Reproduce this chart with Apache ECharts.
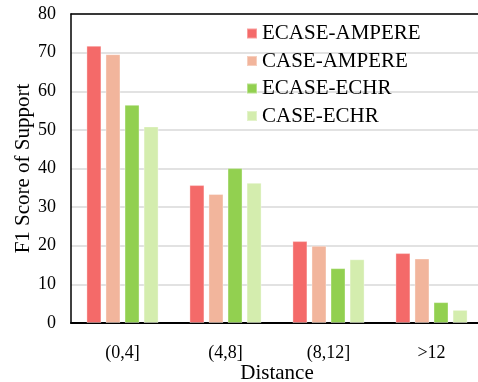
<!DOCTYPE html>
<html>
<head>
<meta charset="utf-8">
<script src="https://cdn.jsdelivr.net/npm/echarts@6/dist/echarts.min.js"></script>
<style>
  html, body { margin: 0; padding: 0; background: #fff; }
  #chart { width: 478px; height: 382px; }
</style>
</head>
<body>
<div id="chart"></div>
<script>
const categories = ['(0,4]', '(4,8]', '(8,12]', '>12'];
const ecaseAmpere = [71.8, 35.7, 21.2, 18.1];
const caseAmpere = [69.6, 33.4, 20.0, 16.7];
const ecaseEchr = [56.5, 40.1, 14.2, 5.4];
const caseEchr = [50.9, 36.3, 16.5, 3.4];
const seriesNames = ['ECASE-AMPERE', 'CASE-AMPERE', 'ECASE-ECHR', 'CASE-ECHR'];
const colors = ['#f46a69', '#f2b59c', '#92d050', '#d4edae'];

const font = '"Liberation Serif", "Times New Roman", serif';
const myChart = echarts.init(document.getElementById('chart'));

const makeSeries = (name, data, i) => ({
    name: name,
    type: 'bar',
    data: data,
    barWidth: 15,
    barGap: '27%',
    itemStyle: { color: colors[i], borderColor: 'rgba(255,255,255,0.35)', borderWidth: 1 }
});

const option = {
    backgroundColor: '#fff',
    animation: false,
    grid: { left: 71, right: -5, top: 14, bottom: 59, containLabel: false, outerBoundsMode: 'none' },
    legend: {
        orient: 'vertical',
        left: 241,
        top: 18,
        itemWidth: 10,
        itemHeight: 10,
        itemGap: 6.5,
        icon: 'rect',
        textStyle: { fontFamily: font, fontSize: 21, color: '#000' },
        data: seriesNames
    },
    xAxis: [{
        type: 'category',
        data: categories,
        name: 'Distance',
        nameLocation: 'middle',
        nameGap: 40,
        nameMoveOverlap: false,
        nameTextStyle: { fontFamily: font, fontSize: 21, color: '#000' },
        axisLine: { lineStyle: { color: '#000', width: 2 } },
        axisTick: { show: false },
        axisLabel: { fontFamily: font, fontSize: 18, color: '#000', margin: 21 }
    }, {
        type: 'category',
        data: categories,
        position: 'top',
        axisLine: { lineStyle: { color: '#000', width: 1.5 } },
        axisTick: { show: false },
        axisLabel: { show: false }
    }],
    yAxis: {
        type: 'value',
        min: 0,
        max: 80,
        interval: 10,
        name: 'F1 Score of Support',
        nameLocation: 'middle',
        nameGap: 37,
        nameMoveOverlap: false,
        nameTextStyle: { fontFamily: font, fontSize: 21, color: '#000' },
        axisLine: { show: true, lineStyle: { color: '#000', width: 1.5 } },
        axisTick: { show: false },
        axisLabel: { fontFamily: font, fontSize: 18, color: '#000', margin: 15 },
        splitLine: { lineStyle: { color: '#d9d9d9', width: 1.5 } }
    },
    series: [
        makeSeries(seriesNames[0], ecaseAmpere, 0),
        makeSeries(seriesNames[1], caseAmpere, 1),
        makeSeries(seriesNames[2], ecaseEchr, 2),
        makeSeries(seriesNames[3], caseEchr, 3)
    ]
};

myChart.setOption(option);
</script>
</body>
</html>
